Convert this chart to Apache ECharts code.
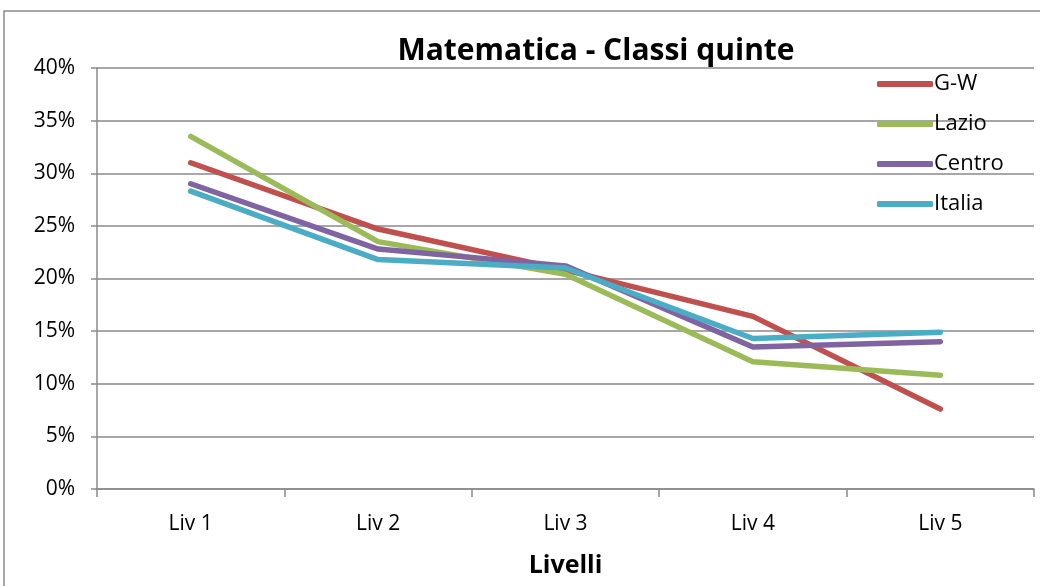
<!DOCTYPE html>
<html>
<head>
<meta charset="utf-8">
<script src="https://cdn.jsdelivr.net/npm/echarts@6/dist/echarts.min.js"></script>
<style>
  html, body { margin: 0; padding: 0; background: #fff; }
  #chart { width: 1040px; height: 586px; }
</style>
</head>
<body>
<div id="chart"></div>
<script>
    // dati
    const levels = ['Liv 1', 'Liv 2', 'Liv 3', 'Liv 4', 'Liv 5'];
    const gw = [31.0, 24.7, 20.8, 16.4, 7.6];
    const lazio = [33.5, 23.5, 20.4, 12.1, 10.8];
    const centro = [29.0, 22.8, 21.2, 13.5, 14.0];
    const italia = [28.3, 21.8, 21.0, 14.3, 14.9];

    const font = 'Open Sans';
    const gridColor = '#8a8a8a';

    const mkSeries = (name, data, color) => ({
        name: name,
        type: 'line',
        data: data,
        symbol: 'none',
        lineStyle: { width: 5.5, color: color, cap: 'round' },
        itemStyle: { color: color }
    });

    const myChart = echarts.init(document.getElementById('chart'));
    myChart.setOption({
        animation: false,
        textStyle: { fontFamily: font },
        title: {
            text: 'Matematica - Classi quinte',
            left: 591,
            textAlign: 'center',
            top: 31,
            textStyle: { fontFamily: font, fontSize: 30, fontWeight: 'bold', color: '#000' }
        },
        legend: {
            orient: 'vertical',
            left: 872,
            top: 64,
            itemGap: 10,
            itemWidth: 56,
            itemHeight: 6,
            icon: 'roundRect',
            textStyle: { fontFamily: font, fontSize: 22, lineHeight: 30, color: '#000', padding: [0, 0, 0, -4] },
            data: ['G-W', 'Lazio', 'Centro', 'Italia']
        },
        grid: { left: 97, right: 6, top: 68, bottom: 97, outerBoundsMode: 'none' },
        xAxis: {
            type: 'category',
            data: levels,
            boundaryGap: true,
            name: 'Livelli',
            nameLocation: 'middle',
            nameGap: 64,
            nameTextStyle: { fontFamily: font, fontSize: 25, fontWeight: 'bold', color: '#000' },
            axisLine: { lineStyle: { color: gridColor, width: 1.5 } },
            axisTick: { show: true, length: 8, lineStyle: { color: gridColor, width: 1.5 } },
            axisLabel: { fontFamily: font, fontSize: 21, color: '#000', margin: 25 }
        },
        yAxis: {
            type: 'value',
            min: 0,
            max: 40,
            interval: 5,
            axisLine: { show: true, lineStyle: { color: gridColor, width: 1.5 } },
            axisTick: { show: true, length: 6, lineStyle: { color: gridColor, width: 1.5 } },
            splitLine: { lineStyle: { color: gridColor, width: 1.5 } },
            axisLabel: { fontFamily: font, fontSize: 21, color: '#000', margin: 22, formatter: '{value}%' }
        },
        graphic: [{
            type: 'polyline',
            shape: { points: [[4, 586], [4, 11], [1040, 11]] },
            style: { stroke: '#8a8a8a', lineWidth: 1.5, fill: null }
        }],
        series: [
            mkSeries('G-W', gw, '#C0504D'),
            mkSeries('Lazio', lazio, '#9BBB59'),
            mkSeries('Centro', centro, '#8064A2'),
            mkSeries('Italia', italia, '#4BACC6')
        ]
    });
</script>
</body>
</html>
